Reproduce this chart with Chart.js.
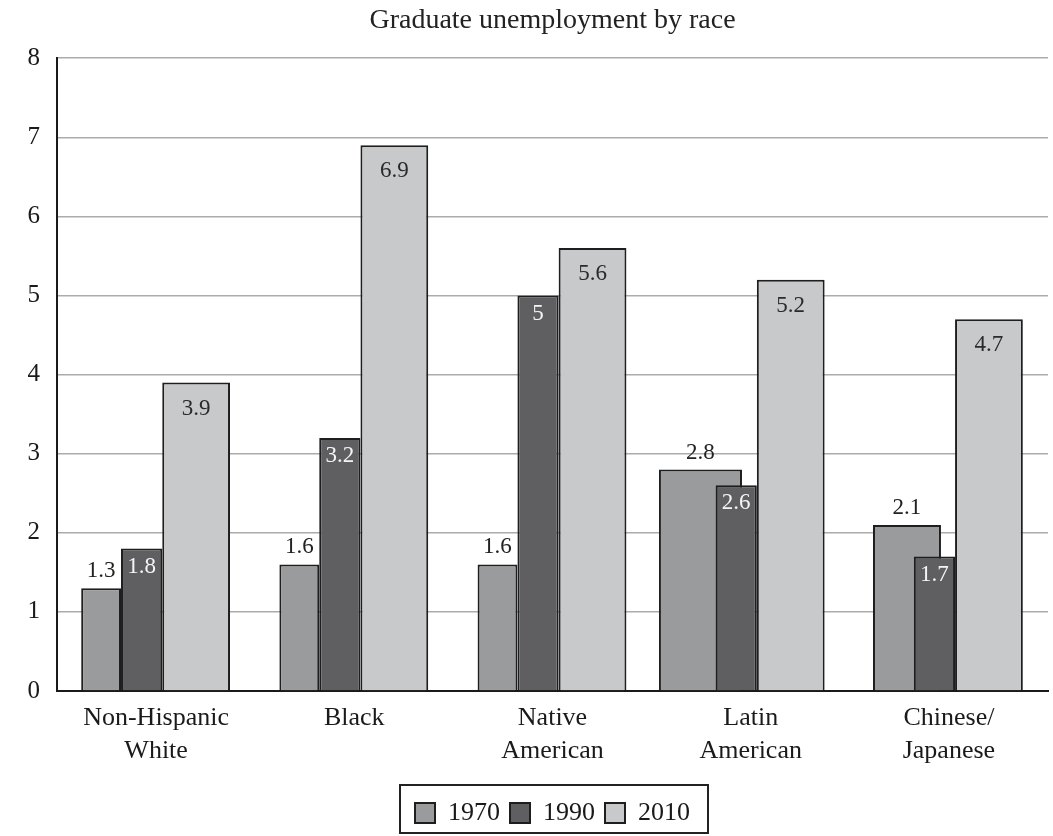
<!DOCTYPE html>
<html>
<head>
<meta charset="utf-8">
<title>Graduate unemployment by race</title>
<script src="https://cdn.jsdelivr.net/npm/chart.js@4/dist/chart.umd.min.js"></script>
<style>
  html, body { margin: 0; padding: 0; background: #ffffff; }
  #wrap { width: 1053px; height: 836px; position: relative; }
</style>
</head>
<body>
<div id="wrap"><canvas id="chart" width="1053" height="836"></canvas></div>
<script>
// ---- data ----
const categories = [['Non-Hispanic', 'White'], 'Black', ['Native', 'American'], ['Latin', 'American'], ['Chinese/', 'Japanese']];
const seriesNames = ['1970', '1990', '2010'];
const rate1970 = [1.3, 1.6, 1.6, 2.8, 2.1];
const rate1990 = [1.8, 3.2, 5, 2.6, 1.7];
const rate2010 = [3.9, 6.9, 5.6, 5.2, 4.7];
const yTicks = [0, 1, 2, 3, 4, 5, 6, 7, 8];

// ---- bar placement inside each category (fractions of the category width, from its centre) ----
const span1970 = [[-0.378, -0.177], [-0.378, -0.177], [-0.378, -0.177], [-0.463, -0.044], [-0.383, -0.040]];
const span1990 = [-0.177, 0.031];
const span2010 = [0.031, 0.373];

const SERIF = "'Liberation Serif', 'Times New Roman', 'DejaVu Serif', serif";
Chart.defaults.font.family = SERIF;
Chart.defaults.color = '#1a1a1a';

// Bar controller that places each bar at an explicit span of its category slot
class PlacedBarController extends Chart.BarController {
  _calculateBarIndexPixels(index, ruler) {
    const ds = this.getDataset();
    const s = Array.isArray(ds.span[0]) ? ds.span[index] : ds.span;
    const iScale = this._cachedMeta.iScale;
    const cw = iScale.width / iScale.getLabels().length;
    const c = ruler.pixels[index];
    const base = c + s[0] * cw;
    const head = c + s[1] * cw;
    return { base, head, center: (base + head) / 2, size: head - base };
  }
}
PlacedBarController.id = 'placedBar';
PlacedBarController.defaults = Chart.BarController.defaults;
PlacedBarController.overrides = Chart.BarController.overrides;
Chart.register(PlacedBarController);

// Value labels: above the bar, or inside near its top
const valueLabels = {
  id: 'valueLabels',
  afterDatasetsDraw(chart) {
    const ctx = chart.ctx;
    chart.data.datasets.forEach((ds, di) => {
      const meta = chart.getDatasetMeta(di);
      const st = ds.valueLabel;
      meta.data.forEach((bar, i) => {
        ctx.save();
        ctx.font = '23px ' + SERIF;
        ctx.fillStyle = st.color;
        ctx.textAlign = 'center';
        ctx.textBaseline = 'middle';
        ctx.fillText(String(ds.data[i]), bar.x, bar.y + st.dy);
        ctx.restore();
      });
    });
  }
};

// Frame around the legend
const legendFrame = {
  id: 'legendFrame',
  afterDraw(chart) {
    const hb = chart.legend && chart.legend.legendHitBoxes;
    if (!hb || !hb.length) return;
    const first = hb[0], last = hb[hb.length - 1];
    const left = first.left - 15;
    const right = last.left + last.width + 18;
    const top = first.top - 15;
    const bottom = 833;
    const ctx = chart.ctx;
    ctx.save();
    ctx.strokeStyle = '#222';
    ctx.lineWidth = 2;
    ctx.strokeRect(left, top, right - left, bottom - top);
    ctx.restore();
  }
};

const barBorder = '#1e1e1e';

new Chart(document.getElementById('chart'), {
  type: 'placedBar',
  data: {
    labels: categories,
    datasets: [
      { label: seriesNames[0], data: rate1970, span: span1970, order: 1,
        backgroundColor: '#9a9b9d', borderColor: barBorder, borderWidth: 2,
        valueLabel: { dy: -17, color: '#222' } },
      { label: seriesNames[1], data: rate1990, span: span1990, order: 0,
        backgroundColor: '#5f5f62', borderColor: barBorder, borderWidth: 2,
        valueLabel: { dy: 18, color: '#f4f4f4' } },
      { label: seriesNames[2], data: rate2010, span: span2010, order: 2,
        backgroundColor: '#c8c9cb', borderColor: barBorder, borderWidth: 2,
        valueLabel: { dy: 26, color: '#2a2a2a' } }
    ]
  },
  options: {
    responsive: false,
    animation: false,
    layout: { padding: { left: 0, right: 5, top: 0, bottom: 0 } },
    plugins: {
      title: {
        display: true,
        fullSize: false,
        text: 'Graduate unemployment by race',
        color: '#222',
        font: { size: 28, weight: 'normal', family: SERIF, lineHeight: 1.15 },
        padding: { top: 5, bottom: 21 }
      },
      legend: {
        display: true,
        fullSize: false,
        position: 'bottom',
        labels: {
          color: '#1a1a1a',
          font: { size: 26, family: SERIF },
          boxWidth: 20,
          boxHeight: 20,
          padding: 10,
          sort: (a, b) => a.datasetIndex - b.datasetIndex
        }
      },
      tooltip: { enabled: false }
    },
    scales: {
      x: {
        type: 'category',
        offset: true,
        grid: { display: false, drawTicks: false },
        border: { display: true, color: '#1a1a1a', width: 2 },
        ticks: { color: '#1a1a1a', font: { size: 26, lineHeight: 1.25 }, padding: 11, maxRotation: 0, autoSkip: false },
        afterFit: (scale) => { scale.height = 99; }
      },
      y: {
        min: 0,
        max: 8,
        afterBuildTicks: (scale) => { scale.ticks = yTicks.map(v => ({ value: v })); },
        grid: { color: '#ababab', lineWidth: 1.5, drawTicks: false },
        border: { display: true, color: '#1a1a1a', width: 2 },
        ticks: { color: '#1a1a1a', font: { size: 25 }, padding: 17 },
        afterFit: (scale) => { scale.width = 57; }
      }
    }
  },
  plugins: [valueLabels, legendFrame]
});
</script>
</body>
</html>
